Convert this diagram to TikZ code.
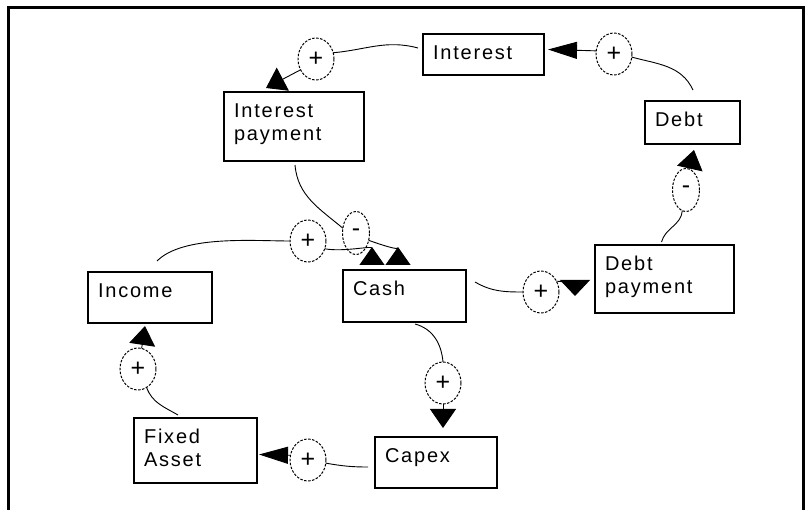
\documentclass[tikz,border=0pt]{standalone}
\usepackage{fontspec}
\setmainfont{Liberation Sans}
\newfontfamily\boxfont[LetterSpace=9]{Liberation Sans}
\usetikzlibrary{arrows.meta,shapes.geometric,positioning}

\begin{document}
\begin{tikzpicture}[x=1pt,y=1pt,
  box/.style n args={2}{draw, line width=1.6pt, outer sep=0pt, anchor=north west,
    inner xsep=10pt, inner ysep=0pt, align=left,
    font=\boxfont\fontsize{20}{23}\selectfont,
    text height=25.5pt, text width=#1, text depth=#2},
  plussign/.style={ellipse, draw, dash pattern=on 2.5pt off 1.5pt, line width=1pt,
    outer sep=0pt, inner sep=0pt, minimum width=36pt, minimum height=42pt,
    font=\fontsize{25}{25}\selectfont},
  minussign/.style={plussign, minimum width=27pt, minimum height=43pt},
  conn/.style={line width=0.9pt},
  vhead/.style={conn, -{Triangle[length=19pt,width=26pt]}},
  hhead/.style={conn, -{Triangle[length=29pt,width=17pt]}},
  revhead/.style={conn, -{Triangle[reversed,length=18pt,width=25pt]}}]
  \useasboundingbox (0,-510) rectangle (812,0);
  \draw[line width=2.4pt] (8.5,-510) -- (8.5,-7.5) -- (803.5,-7.5) -- (803.5,-510);

  % boxes
  \node[box={101pt}{15.5pt}] (int) at (423,-34) {Interest};
  \node[box={120pt}{43.5pt}] (ipay) at (224,-92) {Interest\\payment};
  \node[box={75pt}{17.5pt}] (debt) at (645,-101) {Debt};
  \node[box={119pt}{42.5pt}] (dpay) at (595,-245) {Debt\\payment};
  \node[box={103pt}{26.5pt}] (cash) at (343,-270) {Cash};
  \node[box={104pt}{25.5pt}] (inc) at (88,-272) {Income};
  \node[box={103pt}{39.5pt}] (fa) at (134,-418) {Fixed\\Asset};
  \node[box={102pt}{25.5pt}] (capex) at (375,-437) {Capex};

  % signs
  \node[plussign] (s1) at (316,-59) {+};
  \node[plussign] (s2) at (614,-54) {+};
  \node[minussign] (s3) at (686,-190) {-};
  \node[minussign] (s4) at (356,-233) {-};
  \node[plussign] (s5) at (308,-241) {+};
  \node[plussign] (s6) at (541,-292) {+};
  \node[plussign] (s7) at (443,-383) {+};
  \node[plussign] (s8) at (308,-460) {+};
  \node[plussign] (s9) at (138,-369) {+};

  % debt loop
  \draw[conn] ([shift={(-5,6.5)}]int.west) to[out=165,in=5] (s1.20);
  \draw[vhead] (s1.215) -- ([shift={(42,4)}]ipay.north west);
  \draw[conn] ([shift={(0.5,11)}]debt.north) to[out=115,in=-15] (s2.-10);
  \draw[hhead] (s2.170) -- ([shift={(4,5)}]int.east);
  \draw[conn] ([shift={(-3,3)}]dpay.north) to[out=75,in=-95] (s3.260);
  \draw[vhead] (s3.80) -- ([shift={(1.5,-6)}]debt.south);
  \draw[conn] ([shift={(1,-4)}]ipay.south) to[out=-85,in=140] (s4.160);
  \draw[revhead] (s4.-30) to[out=-20,in=90] ([shift={(55,5)}]cash.north west);
  \draw[conn] ([shift={(9,14)}]cash.east) to[out=-30,in=180] (s6.west);
  \draw[conn,-{Triangle[length=16pt,width=30pt]}] (s6.35) to[out=0,in=90] ([shift={(-20,-17)}]dpay.west);

  % asset loop
  \draw[conn] ([shift={(10.5,-2)}]cash.south) to[out=-15,in=95] (s7.north);
  \draw[vhead] (s7.south) -- ([shift={(68,9)}]capex.north west);
  \draw[conn] ([shift={(-7,-4.5)}]capex.west) to[out=180,in=-10] (s8.-10);
  \draw[hhead] (s8.165) -- ([shift={(2,-4)}]fa.east);
  \draw[conn] ([shift={(-17.5,3)}]fa.north) to[out=150,in=-70] (s9.-65);
  \draw[vhead] (s9.80) -- ([shift={(-5,-3)}]inc.south);
  \draw[conn] ([shift={(7,11)}]inc.north) to[out=45,in=180,looseness=0.7] (s5.west);
  \draw[revhead] (s5.-25) to[out=-10,in=90] ([shift={(29,5)}]cash.north west);
\end{tikzpicture}
\end{document}
